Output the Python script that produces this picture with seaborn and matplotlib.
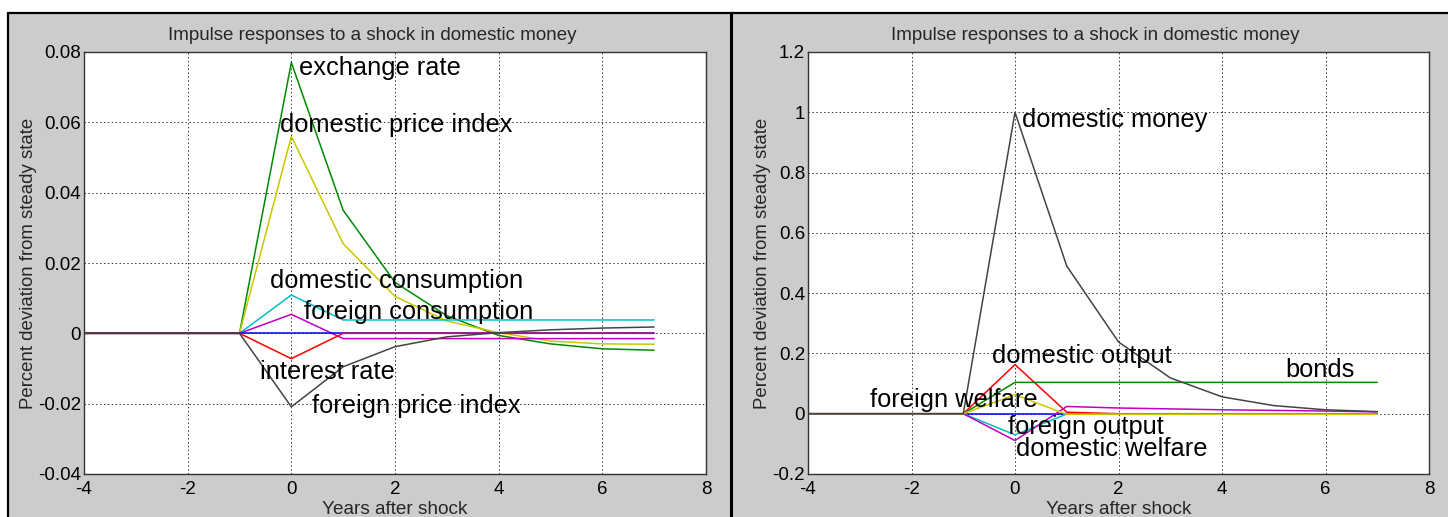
import matplotlib
matplotlib.use("Agg")
import matplotlib.pyplot as plt
from matplotlib.patches import Rectangle
from matplotlib.lines import Line2D
import seaborn as sns
import pandas as pd

# ---- data -------------------------------------------------------------
years = [-4, -3, -2, -1, 0, 1, 2, 3, 4, 5, 6, 7]

# panel 1: nominal variables
exchange_rate = [0, 0, 0, 0, 0.0770, 0.0350, 0.0145, 0.0050, -0.0006, -0.0030, -0.0044, -0.0048]
domestic_price_index = [0, 0, 0, 0, 0.0560, 0.0255, 0.0105, 0.0035, 0.0002, -0.0022, -0.0030, -0.0031]
domestic_consumption = [0, 0, 0, 0, 0.0109, 0.0038, 0.0038, 0.0038, 0.0038, 0.0038, 0.0038, 0.0038]
foreign_consumption = [0, 0, 0, 0, 0.0054, -0.0015, -0.0015, -0.0015, -0.0015, -0.0015, -0.0015, -0.0015]
flat_response_1 = [0, 0, 0, 0, 0, 0, 0, 0, 0, 0, 0, 0]
interest_rate = [0, 0, 0, 0, -0.0072, 0, 0, 0, 0, 0, 0, 0]
foreign_price_index = [0, 0, 0, 0, -0.0209, -0.0095, -0.0038, -0.0010, 0.0002, 0.0010, 0.0015, 0.0018]

# panel 2: real variables
domestic_money = [0, 0, 0, 0, 1.0, 0.49, 0.238, 0.119, 0.056, 0.027, 0.013, 0.007]
domestic_output = [0, 0, 0, 0, 0.163, 0.005, 0, 0, 0, 0, 0, 0]
bonds = [0, 0, 0, 0, 0.104, 0.104, 0.104, 0.104, 0.104, 0.104, 0.104, 0.104]
foreign_welfare = [0, 0, 0, 0, 0.063, -0.002, -0.002, -0.002, -0.002, -0.002, -0.002, -0.002]
foreign_output = [0, 0, 0, 0, -0.070, -0.001, -0.001, -0.001, -0.001, -0.001, -0.001, -0.001]
domestic_welfare = [0, 0, 0, 0, -0.089, 0.024, 0.019, 0.016, 0.013, 0.011, 0.009, 0.006]
flat_response_2 = [0, 0, 0, 0, 0, 0, 0, 0, 0, 0, 0, 0]

title_text = "Impulse responses to a shock in domestic money"
xlabel_text = "Years after shock"
ylabel_text = "Percent deviation from steady state"

xticks = [-4, -2, 0, 2, 4, 6, 8]
yticks_left = [-0.04, -0.02, 0, 0.02, 0.04, 0.06, 0.08]
ytick_labels_left = ["-0.04", "-0.02", "0", "0.02", "0.04", "0.06", "0.08"]
yticks_right = [-0.2, 0, 0.2, 0.4, 0.6, 0.8, 1.0, 1.2]
ytick_labels_right = ["-0.2", "0", "0.2", "0.4", "0.6", "0.8", "1", "1.2"]

# ---- colours ------------------------------------------------------------
GREEN = "#008a00"
YELLOW = "#c8c800"
CYAN = "#00c0c0"
MAGENTA = "#c000c0"
BLUE = "#0000ff"
RED = "#ff0000"
DARK = "#444444"
PANEL = "#cccccc"

sns.set_theme(style="white")
plt.rcParams["font.family"] = ["Liberation Sans", "DejaVu Sans"]

W, H = 1448, 517
fig = plt.figure(figsize=(W / 100, H / 100), dpi=100)
fig.patch.set_facecolor("white")

# grey window panels with black frame
top = (H - 13) / H
fig.patches.append(Rectangle((8 / W, 0), (731 - 8) / W, top, transform=fig.transFigure,
                             facecolor=PANEL, edgecolor="none", zorder=-10))
fig.patches.append(Rectangle((731 / W, 0), (W - 731) / W, top, transform=fig.transFigure,
                             facecolor=PANEL, edgecolor="none", zorder=-10))
fig.add_artist(Line2D([8 / W, 1], [top, top], transform=fig.transFigure, color="black", lw=1.6))
fig.add_artist(Line2D([8 / W, 8 / W], [0, top], transform=fig.transFigure, color="black", lw=1.6))
fig.add_artist(Line2D([731 / W, 731 / W], [0, top], transform=fig.transFigure, color="black", lw=2.2))

ax_bottom = (H - 474) / H
ax_height = (474 - 52) / H
ax1 = fig.add_axes([84 / W, ax_bottom, (706 - 84) / W, ax_height])
ax2 = fig.add_axes([808 / W, ax_bottom, (1429 - 808) / W, ax_height])


def draw_series(ax, series):
    df = pd.DataFrame({"year": years})
    for name, values, color in series:
        df[name] = values
        sns.lineplot(x="year", y=name, data=df, color=color, lw=1.1, ax=ax)


draw_series(ax1, [
    ("exchange rate", exchange_rate, GREEN),
    ("domestic price index", domestic_price_index, YELLOW),
    ("domestic consumption", domestic_consumption, CYAN),
    ("foreign consumption", foreign_consumption, MAGENTA),
    ("flat", flat_response_1, BLUE),
    ("interest rate", interest_rate, RED),
    ("foreign price index", foreign_price_index, DARK),
])

draw_series(ax2, [
    ("flat", flat_response_2, BLUE),
    ("domestic output", domestic_output, RED),
    ("bonds", bonds, GREEN),
    ("foreign output", foreign_output, CYAN),
    ("domestic welfare", domestic_welfare, MAGENTA),
    ("foreign welfare", foreign_welfare, YELLOW),
    ("domestic money", domestic_money, DARK),
])

label_fs = 18.3
left_labels = [
    ("exchange rate", 0.15, 0.0755),
    ("domestic price index", -0.22, 0.0593),
    ("domestic consumption", -0.41, 0.0150),
    ("foreign consumption", 0.25, 0.0060),
    ("interest rate", -0.60, -0.0111),
    ("foreign price index", 0.40, -0.0207),
]
right_labels = [
    ("domestic money", 0.14, 0.973),
    ("domestic output", -0.44, 0.192),
    ("bonds", 5.23, 0.146),
    ("foreign welfare", -2.80, 0.046),
    ("foreign output", -0.13, -0.044),
    ("domestic welfare", 0.02, -0.118),
]
for ax, labels in ((ax1, left_labels), (ax2, right_labels)):
    for text, x, y in labels:
        ax.text(x, y, text, fontsize=label_fs, ha="left", va="center", color="black", zorder=5)

for ax, yt, ytl, ylim, tx in ((ax1, yticks_left, ytick_labels_left, (-0.04, 0.08), 0.464),
                              (ax2, yticks_right, ytick_labels_right, (-0.2, 1.2), 0.462)):
    ax.set_facecolor("white")
    ax.set_xlim(-4, 8)
    ax.set_ylim(*ylim)
    ax.set_xticks(xticks)
    ax.set_xticklabels([str(t) for t in xticks])
    ax.set_yticks(yt)
    ax.set_yticklabels(ytl)
    ax.tick_params(axis="both", length=0, labelsize=13.5, colors="black")
    ax.tick_params(axis="x", pad=5)
    ax.tick_params(axis="y", pad=2)
    ax.grid(True, color="#333333", linestyle=(0, (1.5, 2.5)), lw=0.7)
    for s in ax.spines.values():
        s.set_color("#333333")
        s.set_linewidth(1.0)
    ax.set_title(title_text, fontsize=13.5, pad=9, x=tx)
    ax.set_xlabel(xlabel_text, fontsize=13.7, labelpad=2)
    ax.set_ylabel(ylabel_text, fontsize=13.4, labelpad=1)

fig.savefig("out.png", dpi=100, facecolor=fig.get_facecolor())
